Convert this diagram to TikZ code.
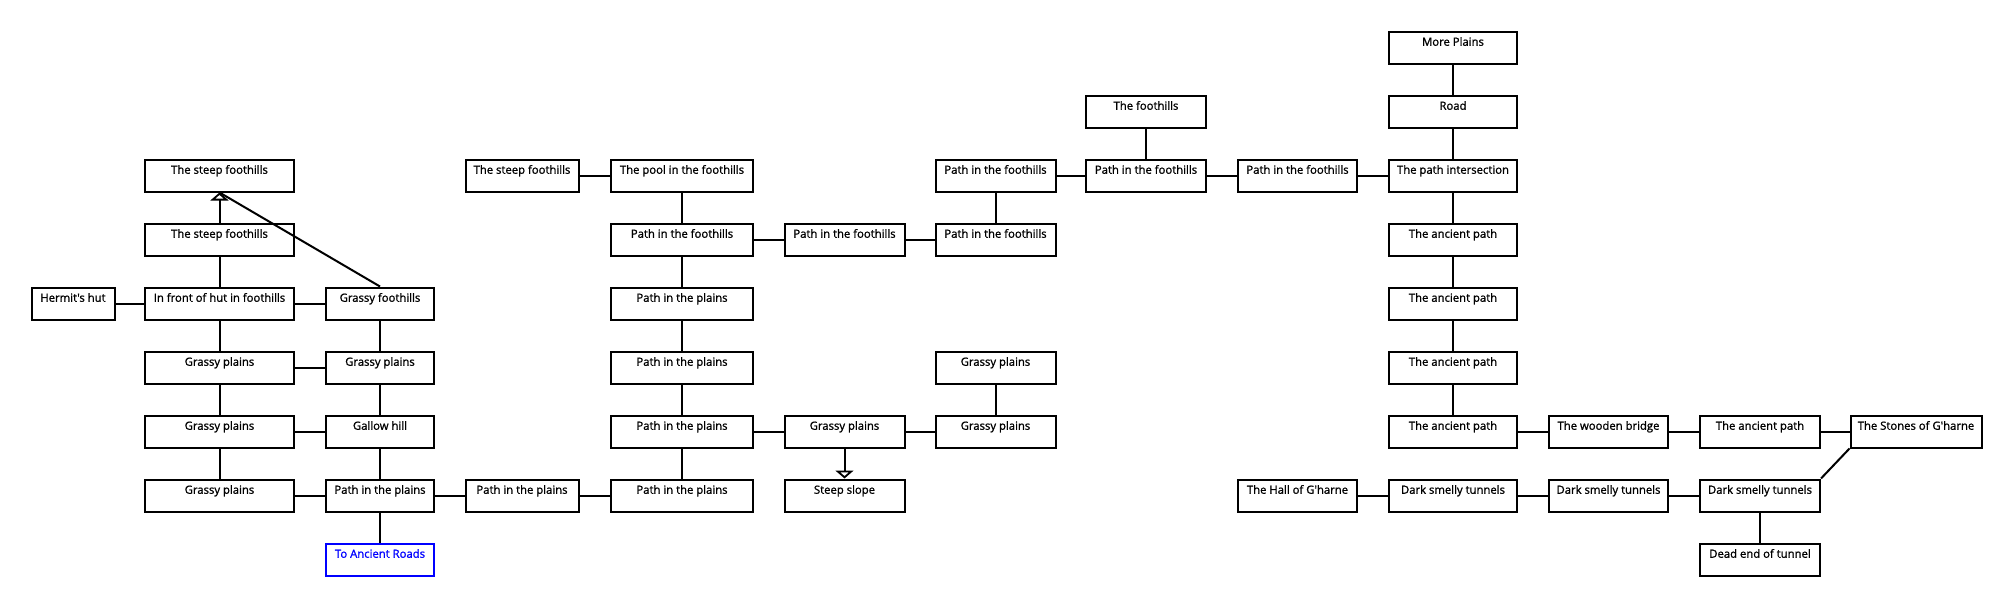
\documentclass[tikz,border=0pt]{standalone}
\usepackage{fontspec}
\setmainfont{Open Sans}
\newfontfamily\roomfont[FakeBold=1.2]{Open Sans}
\usetikzlibrary{arrows.meta}
\tikzset{
  room/.style={draw, line width=2pt, minimum height=32pt, inner sep=0pt,
    text height=6.5pt, text depth=10pt, font=\roomfont\fontsize{11.3}{13}\selectfont},
  wA/.style={room, minimum width=83pt},
  wB/.style={room, minimum width=149pt},
  wC/.style={room, minimum width=108pt},
  wD/.style={room, minimum width=113pt},
  wF/.style={room, minimum width=142pt},
  wG/.style={room, minimum width=120pt},
  wH/.style={room, minimum width=120pt},
  wI/.style={room, minimum width=120pt},
  wJ/.style={room, minimum width=119pt},
  wK/.style={room, minimum width=128pt},
  wL/.style={room, minimum width=119pt},
  wM/.style={room, minimum width=120pt},
  wN/.style={room, minimum width=131pt},
  link/.style={line width=2pt},
  tolink/.style={line width=2pt, -{Triangle[open, width=18pt, length=8pt, line width=1.8pt]}},
  exitroom/.style={draw=blue, text=blue}
}
\begin{document}
\begin{tikzpicture}[x=1pt, y=-1pt]
\useasboundingbox (0,0) rectangle (2016,608);
% column A
\node[wA] (a4) at (73,303.5) {Hermit's hut};
% column B
\node[wB] (b2) at (219.5,175.5) {The steep foothills};
\node[wB] (b3) at (219.5,239.5) {The steep foothills};
\node[wB] (b4) at (219.5,303.5) {In front of hut in foothills};
\node[wB] (b5) at (219.5,367.5) {Grassy plains};
\node[wB] (b6) at (219.5,431.5) {Grassy plains};
\node[wB] (b7) at (219.5,495.5) {Grassy plains};
% column C
\node[wC] (c4) at (380,303.5) {Grassy foothills};
\node[wC] (c5) at (380,367.5) {Grassy plains};
\node[wC] (c6) at (380,431.5) {Gallow hill};
\node[wC] (c7) at (380,495.5) {Path in the plains};
\node[wC, exitroom] (c8) at (380,559.5) {To Ancient Roads};
% column D
\node[wD] (d2) at (522,175.5) {The steep foothills};
\node[wD] (d7) at (522,495.5) {Path in the plains};
% column F
\node[wF] (f2) at (682,175.5) {The pool in the foothills};
\node[wF] (f3) at (682,239.5) {Path in the foothills};
\node[wF] (f4) at (682,303.5) {Path in the plains};
\node[wF] (f5) at (682,367.5) {Path in the plains};
\node[wF] (f6) at (682,431.5) {Path in the plains};
\node[wF] (f7) at (682,495.5) {Path in the plains};
% column G
\node[wG] (g3) at (844.5,239.5) {Path in the foothills};
\node[wG] (g6) at (844.5,431.5) {Grassy plains};
\node[wG] (g7) at (844.5,495.5) {Steep slope};
% column H
\node[wH] (h2) at (995.5,175.5) {Path in the foothills};
\node[wH] (h3) at (995.5,239.5) {Path in the foothills};
\node[wH] (h5) at (995.5,367.5) {Grassy plains};
\node[wH] (h6) at (995.5,431.5) {Grassy plains};
% column I
\node[wI] (i1) at (1146,111.5) {The foothills};
\node[wI] (i2) at (1146,175.5) {Path in the foothills};
% column J
\node[wJ] (j2) at (1297.5,175.5) {Path in the foothills};
\node[wJ] (j7) at (1297.5,495.5) {The Hall of G'harne};
% column K
\node[wK] (k0) at (1453,47.5) {More Plains};
\node[wK] (k1) at (1453,111.5) {Road};
\node[wK] (k2) at (1453,175.5) {The path intersection};
\node[wK] (k3) at (1453,239.5) {The ancient path};
\node[wK] (k4) at (1453,303.5) {The ancient path};
\node[wK] (k5) at (1453,367.5) {The ancient path};
\node[wK] (k6) at (1453,431.5) {The ancient path};
\node[wK] (k7) at (1453,495.5) {Dark smelly tunnels};
% column L
\node[wL] (l6) at (1608.5,431.5) {The wooden bridge};
\node[wL] (l7) at (1608.5,495.5) {Dark smelly tunnels};
% column M
\node[wM] (m6) at (1760,431.5) {The ancient path};
\node[wM] (m7) at (1760,495.5) {Dark smelly tunnels};
\node[wM] (m8) at (1760,559.5) {Dead end of tunnel};
% column N
\node[wN] (n6) at (1916,431.5) {The Stones of G'harne};

% connectors, left part
\draw[tolink] (b3) -- (b2);
\draw[link] (c4.north) -- (b2.south);
\draw[link] (b3) -- (b4);
\draw[link] (a4) -- (b4);
\draw[link] (b4) -- (c4);
\draw[link] (b4) -- (b5);
\draw[link] (b5) -- (b6);
\draw[link] (b6) -- (b7);
\draw[link] (b5) -- (c5);
\draw[link] (b6) -- (c6);
\draw[link] (b7) -- (c7);
\draw[link] (c4) -- (c5);
\draw[link] (c5) -- (c6);
\draw[link] (c6) -- (c7);
\draw[link] (c7) -- (c8);
\draw[link] (c7) -- (d7);
\draw[link] (d7) -- (f7);
% middle part
\draw[link] (d2) -- (f2);
\draw[link] (f2) -- (f3);
\draw[link] (f3) -- (f4);
\draw[link] (f4) -- (f5);
\draw[link] (f5) -- (f6);
\draw[link] (f6) -- (f7);
\draw[link] (f3) -- (g3);
\draw[link] (g3) -- (h3);
\draw[link] (h3) -- (h2);
\draw[link] (h2) -- (i2);
\draw[link] (f6) -- (g6);
\draw[link] (g6) -- (h6);
\draw[link] (h5) -- (h6);
\draw[tolink] (g6) -- (g7);
\draw[link] (i1) -- (i2);
\draw[link] (i2) -- (j2);
\draw[link] (j2) -- (k2);
% right part
\draw[link] (k0) -- (k1);
\draw[link] (k1) -- (k2);
\draw[link] (k2) -- (k3);
\draw[link] (k3) -- (k4);
\draw[link] (k4) -- (k5);
\draw[link] (k5) -- (k6);
\draw[link] (k6) -- (l6);
\draw[link] (l6) -- (m6);
\draw[link] (m6) -- (n6);
\draw[link] (n6.south west) -- (m7.north east);
\draw[link] (m7) -- (m8);
\draw[link] (m7) -- (l7);
\draw[link] (l7) -- (k7);
\draw[link] (k7) -- (j7);
\end{tikzpicture}
\end{document}
